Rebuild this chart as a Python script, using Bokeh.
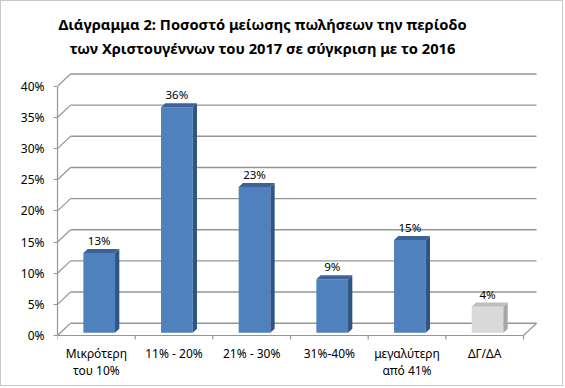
import numpy as np
from bokeh.plotting import figure
from bokeh.models import FixedTicker, Range1d
from bokeh.core.properties import value
from bokeh.embed import file_html
from bokeh.resources import INLINE

# ---------------- data ----------------
categories = ["Μικρότερη\nτου 10%", "11% - 20%", "21% - 30%", "31%-40%",
              "μεγαλύτερη\nαπό 41%", "ΔΓ/ΔΑ"]
values = [12.8, 36.2, 23.4, 8.6, 14.9, 4.2]
front_colors = ["#4F81BD", "#4F81BD", "#4F81BD", "#4F81BD", "#4F81BD", "#D9D9D9"]
side_colors = ["#2F5584", "#2F5584", "#2F5584", "#2F5584", "#2F5584", "#A6A6A6"]
top_colors = ["#3C6398", "#3C6398", "#3C6398", "#3C6398", "#3C6398", "#BFBFBF"]
y_ticks = [0, 5, 10, 15, 20, 25, 30, 35, 40]
title_lines = ["Διάγραμμα 2: Ποσοστό μείωσης πωλήσεων την περίοδο",
               "των Χριστουγέννων του 2017 σε σύγκριση με το 2016"]

# ---------------- layout (figure pixels) ----------------
W, H = 563, 386
LEFT = 56             # frame left = front value axis
ZERO_Y = 334          # pixel row of the 0% floor front edge
PX_X = 77.67          # pixels per category
PX_Y = 6.23           # pixels per percent
DX = 13.0 / PX_X      # depth offset (data units)
DY = 12.3 / PX_Y
F = 0.22              # depth of bar front face
T = 0.33              # bar depth
HW = 0.204            # half bar width
GRID = "#969696"
FONT = value("Noto Sans")

n = len(categories)
vals = np.array(values, dtype=float)
centers = np.arange(n) + 0.5

p = figure(width=W, height=H, output_backend="svg", toolbar_location=None,
           x_range=Range1d(0, (W - LEFT) / PX_X),
           y_range=Range1d(-(H - ZERO_Y) / PX_Y, ZERO_Y / PX_Y),
           min_border_left=LEFT, min_border_bottom=0, min_border_top=0,
           min_border_right=0, background_fill_color="white",
           border_fill_color="white")
p.styles = {"border": "1px solid #C8C8C8"}
p.outline_line_color = None
p.xgrid.visible = False
p.ygrid.visible = False
p.xaxis.visible = False

yt = np.array(y_ticks, dtype=float)
# back wall gridlines
p.segment(x0=np.full(len(yt), DX), y0=yt + DY, x1=np.full(len(yt), n + DX), y1=yt + DY,
          line_color=GRID, line_width=1.4)
# side wall diagonals
p.segment(x0=np.zeros(len(yt)), y0=yt, x1=np.full(len(yt), DX), y1=yt + DY,
          line_color=GRID, line_width=1.2)
# floor: front edge, right edge, category tick marks
p.segment(x0=[0], y0=[0], x1=[n], y1=[0], line_color=GRID, line_width=1.2)
p.segment(x0=[n], y0=[0], x1=[n + DX], y1=[DY], line_color=GRID, line_width=1.2)
bounds = np.arange(n + 1, dtype=float)
p.segment(x0=bounds, y0=np.zeros(n + 1), x1=bounds, y1=np.full(n + 1, -4 / PX_Y),
          line_color=GRID, line_width=1.2)

# bars
left = centers - HW + F * DX
right = centers + HW + F * DX
bot = np.full(n, F * DY)
top = vals + F * DY
p.quad(left=left, right=right, bottom=bot, top=top, fill_color=front_colors,
       line_color=None)
side_xs = [[r, r + T * DX, r + T * DX, r] for r in right]
side_ys = [[b, b + T * DY, t + T * DY, t] for b, t in zip(bot, top)]
p.patches(side_xs, side_ys, fill_color=side_colors, line_color=None)
top_xs = [[l, l + T * DX, r + T * DX, r] for l, r in zip(left, right)]
top_ys = [[t, t + T * DY, t + T * DY, t] for t in top]
p.patches(top_xs, top_ys, fill_color=top_colors, line_color=None)

# data labels
labels = [f"{round(v)}%" for v in values]
p.text(x=(left + right) / 2, y=top + T * DY + 1.35, text=labels,
       text_align="center", text_baseline="middle", text_font=FONT,
       text_font_size="11.5px", text_color="#000000")

# category labels (two lines where needed)
first_lines = [c.split("\n")[0] for c in categories]
second_lines = [c.split("\n")[1] if "\n" in c else "" for c in categories]
p.text(x=centers, y=np.full(n, -18 / PX_Y), text=first_lines, text_align="center",
       text_baseline="middle", text_font=FONT, text_font_size="12px",
       text_color="#000000")
p.text(x=centers, y=np.full(n, -35 / PX_Y), text=second_lines, text_align="center",
       text_baseline="middle", text_font=FONT, text_font_size="12px",
       text_color="#000000")

# title
tx = (261 - LEFT) / PX_X
p.text(x=[tx, tx], y=[(ZERO_Y - 22) / PX_Y, (ZERO_Y - 46) / PX_Y], text=title_lines,
       text_align="center", text_baseline="middle", text_font=FONT,
       text_font_style="bold", text_font_size="14.7px", text_color="#000000")

# y axis
ya = p.yaxis[0]
ya.ticker = FixedTicker(ticks=y_ticks)
ya.major_label_overrides = {t: f"{t}%" for t in y_ticks}
ya.bounds = (0, 40)
ya.axis_label = None
ya.axis_line_color = GRID
ya.axis_line_width = 1.2
ya.major_tick_line_color = GRID
ya.major_tick_out = 4
ya.major_tick_in = 0
ya.minor_tick_line_color = None
ya.major_label_standoff = 9
ya.major_label_text_font = "Noto Sans"
ya.major_label_text_font_size = "12px"
ya.major_label_text_color = "#000000"

open("out.html", "w").write(file_html(p, INLINE))
